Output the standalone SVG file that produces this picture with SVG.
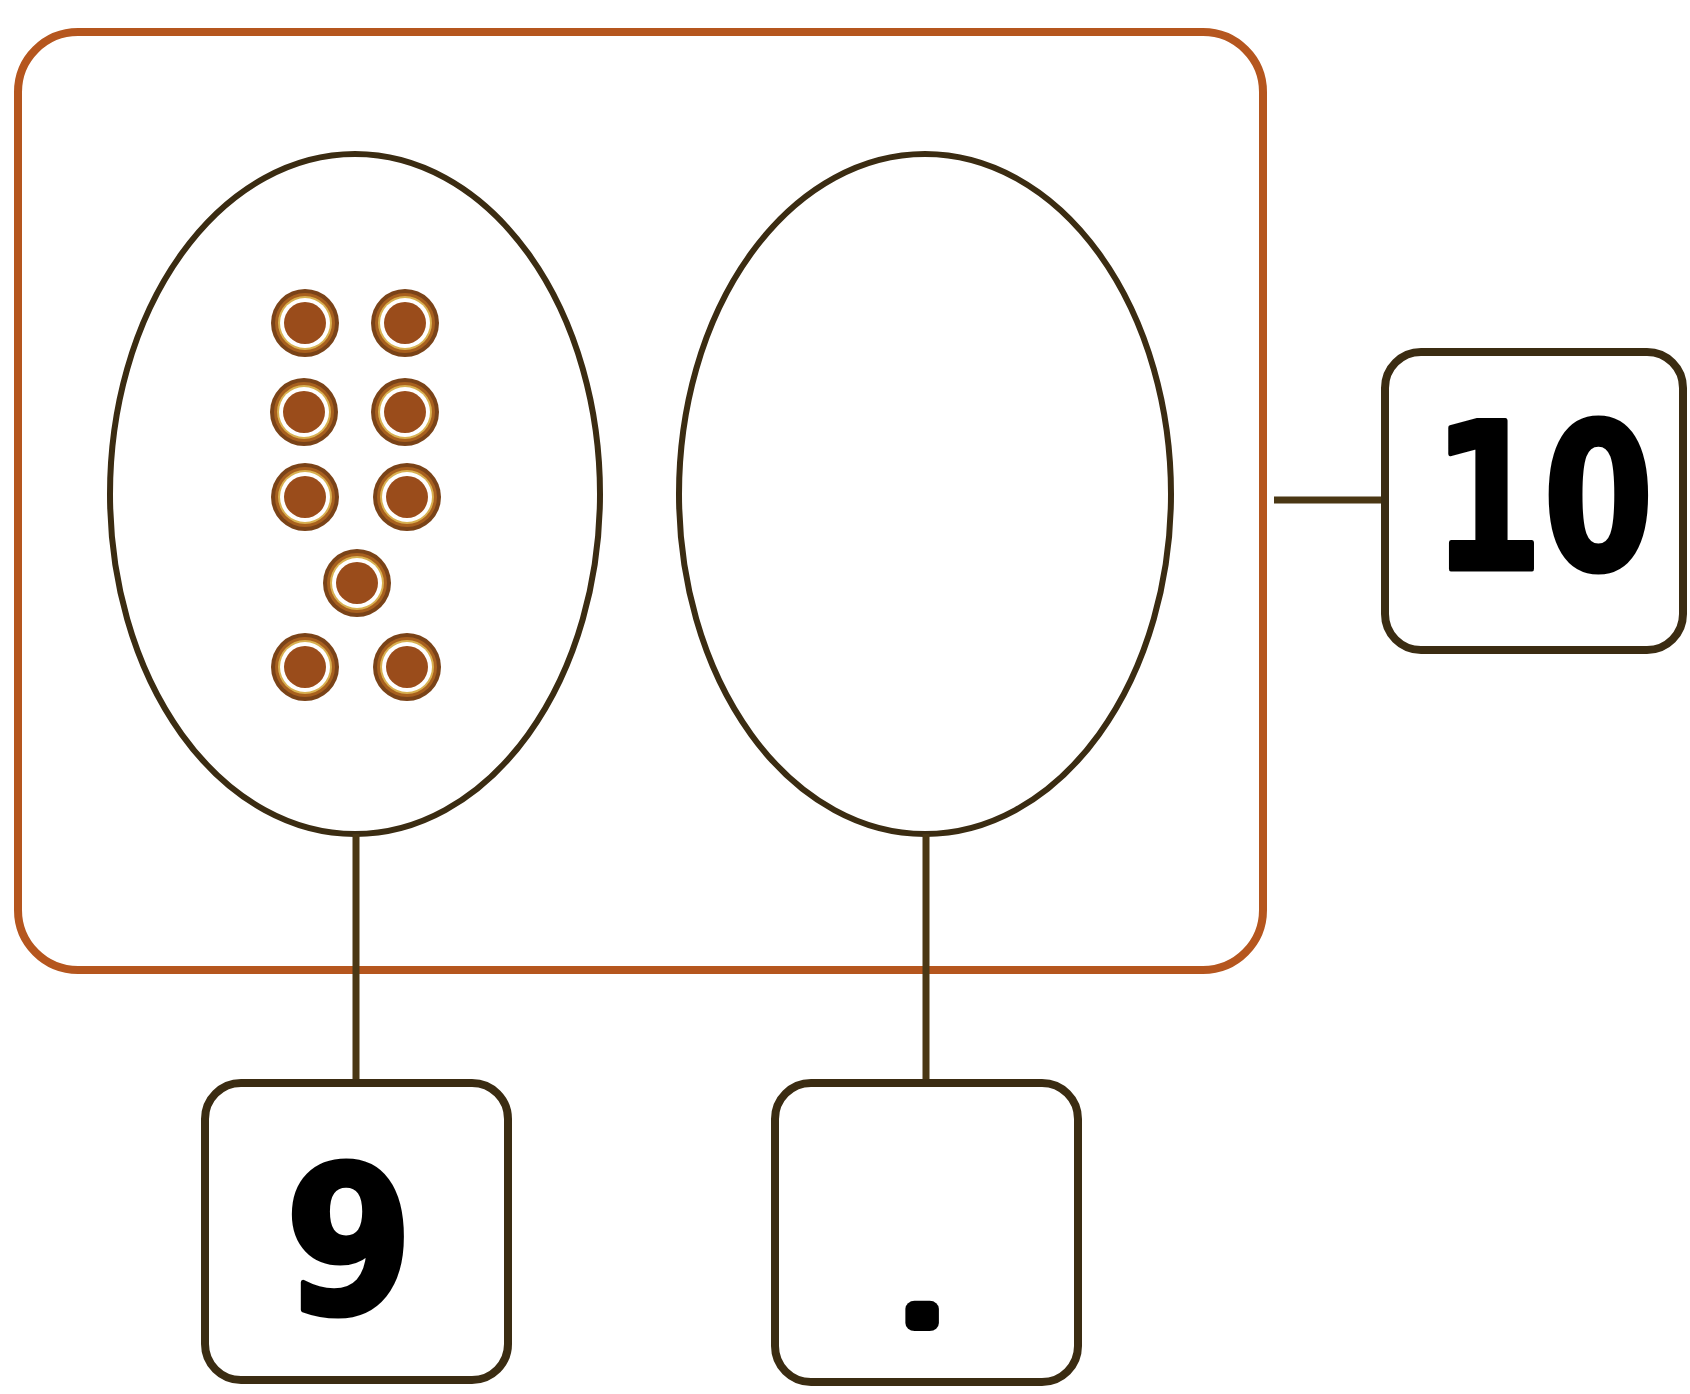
<svg xmlns="http://www.w3.org/2000/svg" width="1690" height="1394" viewBox="0 0 1690 1394">
<defs>
<style>
.frame{fill:none;stroke:#b5561e;stroke-width:8}
.oval{fill:none;stroke:#3b2c12;stroke-width:6}
.box{fill:#fff;stroke:#3b2c12;stroke-width:8}
.conn{stroke:#4a3714;stroke-width:7;fill:none}
.num{font-family:"DejaVu Sans","Liberation Sans",sans-serif;font-weight:bold;fill:#000;stroke:#000;stroke-width:5;stroke-linejoin:round;text-anchor:middle}
.dot{stroke-width:16}
</style>
<g id="counter">
<circle r="34" fill="#7a4318"/>
<circle r="30" fill="#a8601e"/>
<circle r="27" fill="#d8b050"/>
<circle r="25" fill="#fff"/>
<circle r="21" fill="#9a4c1b"/>
</g>
</defs>
<rect width="1690" height="1394" fill="#fff"/>
<g id="frame"><rect class="frame" x="18" y="32" width="1245" height="938" rx="60"/></g>
<g id="oval-left">
<ellipse class="oval" cx="355" cy="494" rx="245" ry="340"/>
<use href="#counter" x="305" y="323"/>
<use href="#counter" x="405" y="323"/>
<use href="#counter" x="304" y="412"/>
<use href="#counter" x="405" y="412"/>
<use href="#counter" x="305" y="497"/>
<use href="#counter" x="407" y="497"/>
<use href="#counter" x="357" y="583"/>
<use href="#counter" x="305" y="667"/>
<use href="#counter" x="407" y="667"/>
</g>
<g id="oval-right"><ellipse class="oval" cx="925" cy="494" rx="246" ry="340"/></g>
<g id="connectors">
<line class="conn" x1="356" y1="834" x2="356" y2="1083"/>
<line class="conn" x1="926" y1="834" x2="926" y2="1083"/>
<line class="conn" x1="1274" y1="500" x2="1385" y2="500"/>
</g>
<g id="box-9"><rect class="box" x="205" y="1083" width="303" height="297" rx="36"/><text class="num" transform="translate(349,1313) scale(0.9,1)" x="0" y="0" font-size="206">9</text></g>
<g id="box-dot"><rect class="box" x="775" y="1083" width="303" height="299" rx="36"/><text class="num dot" transform="translate(922,1323) scale(1.15,1)" x="0" y="0" font-size="75">.</text></g>
<g id="box-10"><rect class="box" x="1385" y="352" width="298" height="298" rx="36"/><text class="num" transform="translate(1543,569) scale(0.78,1)" x="0" y="0" font-size="204">10</text></g>
</svg>
